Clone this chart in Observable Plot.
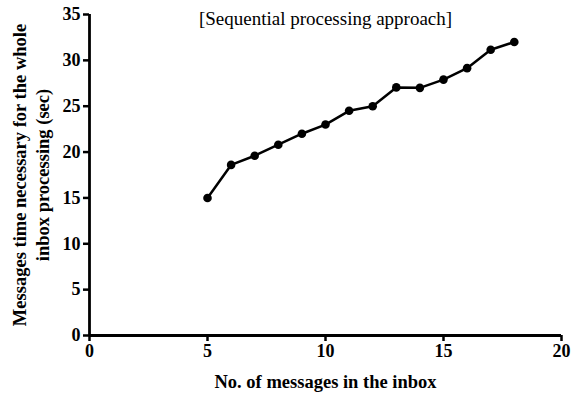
<!DOCTYPE html>
<html>
<head>
<meta charset="utf-8">
<script src="https://cdn.jsdelivr.net/npm/d3@7"></script>
<script src="https://cdn.jsdelivr.net/npm/@observablehq/plot@0.6"></script>
<style>
  html, body { margin: 0; padding: 0; background: #fff; }
  svg { display: block; }
  #chart svg, #chart svg text { font-family: "Liberation Serif", "Times New Roman", serif !important; }
  #chart g[aria-label$="tick label"], #chart g[aria-label$="tick label"] text { font-weight: bold; }
</style>
</head>
<body>
<div id="chart"></div>
<script>
const messages = [5, 6, 7, 8, 9, 10, 11, 12, 13, 14, 15, 16, 17, 18];
const seconds = [15, 18.6, 19.6, 20.8, 22, 23, 24.5, 25, 27.05, 27, 27.9, 29.15, 31.15, 32];
const xTicks = [0, 5, 10, 15, 20];
const yTicks = [0, 5, 10, 15, 20, 25, 30, 35];
const titleText = "[Sequential processing approach]";
const xLabel = "No. of messages in the inbox";
const yLabel1 = "Messages time necessary for the whole";
const yLabel2 = "inbox processing (sec)";

const data = messages.map((m, i) => ({x: m, y: seconds[i]}));
const font = "Liberation Serif";

const chart = Plot.plot({
  width: 575,
  height: 402,
  marginLeft: 89,
  marginRight: 14,
  marginTop: 14,
  marginBottom: 67,
  style: {fontFamily: font, fontSize: "16px", color: "#000", background: "#fff"},
  x: {domain: [0, 20]},
  y: {domain: [0, 35]},
  marks: [
    Plot.axisX({ticks: xTicks, tickSize: 6, tickPadding: 3, strokeWidth: 2.5, label: null, fontSize: 18, fontWeight: "bold", fontFamily: font}),
    Plot.axisY({ticks: yTicks, tickSize: 6, tickPadding: 3, strokeWidth: 2.5, label: null, fontSize: 18, fontWeight: "bold", fontFamily: font}),
    Plot.ruleY([0], {strokeWidth: 2.8}),
    Plot.ruleX([0], {strokeWidth: 2.8}),
    Plot.line(data, {x: "x", y: "y", stroke: "#000", strokeWidth: 2.5}),
    Plot.dot(data, {x: "x", y: "y", r: 4.3, fill: "#000", stroke: "none"}),
    Plot.text([titleText], {frameAnchor: "top", dy: 4, fontSize: 19, fontFamily: font, fill: "#000", lineAnchor: "middle", text: d => d}),
    Plot.text([xLabel], {frameAnchor: "bottom", dy: 52, fontSize: 18.5, fontWeight: "bold", fontFamily: font, fill: "#000", text: d => d}),
    Plot.text([yLabel1], {frameAnchor: "left", textAnchor: "middle", dx: -69, rotate: -90, fontSize: 18.5, fontWeight: "bold", fontFamily: font, fill: "#000", text: d => d}),
    Plot.text([yLabel2], {frameAnchor: "left", textAnchor: "middle", dx: -46, rotate: -90, fontSize: 18.5, fontWeight: "bold", fontFamily: font, fill: "#000", text: d => d})
  ]
});
document.getElementById("chart").appendChild(chart);
</script>
</body>
</html>
